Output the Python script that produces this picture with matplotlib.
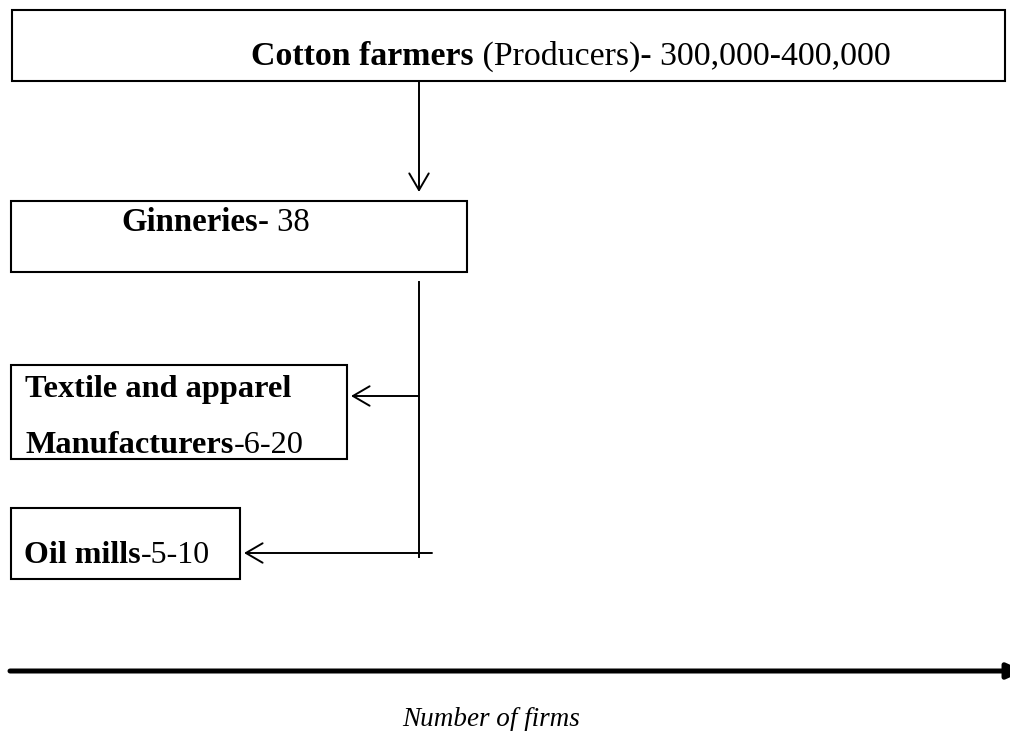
import matplotlib.pyplot as plt
from matplotlib.patches import Rectangle

# ==========================================
# SETTINGS
# ==========================================
OUTPUT_PLOT = "out.png"
W, H = 1010, 731

SERIF = "Liberation Serif"
AXIS_FONT = 19.5

# ==========================================
# DATA (labels of the chain)
# ==========================================
STAGE_BOLD = ["Cotton farmers", "Ginneries", "Manufacturers", "Oil mills"]
STAGE_COUNT = [" (Producers)- 300,000-400,000", "- 38", "-6-20", "-5-10"]
EXTRA_LINE = "Textile and apparel"
AXIS_LABEL = "Number of firms"

# ==========================================
# LAYOUT (pixel coordinates, y downwards)
# ==========================================
# boxes: (left, top, right, bottom)
BOXES = [
    (12, 10, 1005, 81),
    (11, 201, 467, 272),
    (11, 365, 347, 459),
    (11, 508, 240, 579),
]
# text start (x, baseline) and size per box
TEXT_POS = [(251, 65), (121, 231), (25, 453), (24, 563)]
TEXT_SIZE = [24.4, 23.6, 23.3, 23.0]
EXTRA_POS = (25, 397)

# ==========================================
# PLOT
# ==========================================
fig = plt.figure(figsize=(W / 100, H / 100), dpi=100)
ax = fig.add_axes([0, 0, 1, 1])
ax.set_xlim(0, W)
ax.set_ylim(H, 0)
ax.axis("off")

for (x0, y0, x1, y1) in BOXES:
    ax.add_patch(Rectangle((x0, y0), x1 - x0, y1 - y0,
                           fill=False, edgecolor="black", linewidth=1.5))

for bold, count, (tx, ty), fs in zip(STAGE_BOLD, STAGE_COUNT, TEXT_POS, TEXT_SIZE):
    t = ax.text(tx, ty, bold, fontsize=fs, fontweight="bold",
                family=SERIF, ha="left", va="baseline")
    ax.annotate(count, xy=(1, 0), xycoords=t, fontsize=fs,
                family=SERIF, ha="left", va="bottom")

ax.text(EXTRA_POS[0], EXTRA_POS[1], EXTRA_LINE, fontsize=TEXT_SIZE[2],
        fontweight="bold", family=SERIF, ha="left", va="baseline")

# ==========================================
# CONNECTORS
# ==========================================
open_head = dict(arrowstyle="->,head_length=1.2,head_width=0.7",
                 color="black", lw=1.4, shrinkA=0, shrinkB=0)

# farmers -> ginneries
ax.annotate("", xy=(419, 192), xytext=(419, 81), arrowprops=open_head)

# trunk below ginneries
ax.plot([419, 419], [282, 557], color="black", lw=1.4)

# branch to textile
ax.annotate("", xy=(351, 396), xytext=(419, 396), arrowprops=open_head)

# branch to oil mills
ax.annotate("", xy=(244, 553), xytext=(432, 553), arrowprops=open_head)

# ==========================================
# AXIS ARROW + LABEL
# ==========================================
ax.annotate("", xy=(1024, 671), xytext=(10, 671), annotation_clip=False,
            arrowprops=dict(arrowstyle="-|>,head_length=1.0,head_width=0.45",
                            color="black", lw=3.6, shrinkA=0, shrinkB=0))

ax.text(402, 726, AXIS_LABEL, fontsize=AXIS_FONT, style="italic",
        family=SERIF, ha="left", va="baseline")

# ==========================================
# SAVE
# ==========================================
plt.savefig(OUTPUT_PLOT, dpi=100)
